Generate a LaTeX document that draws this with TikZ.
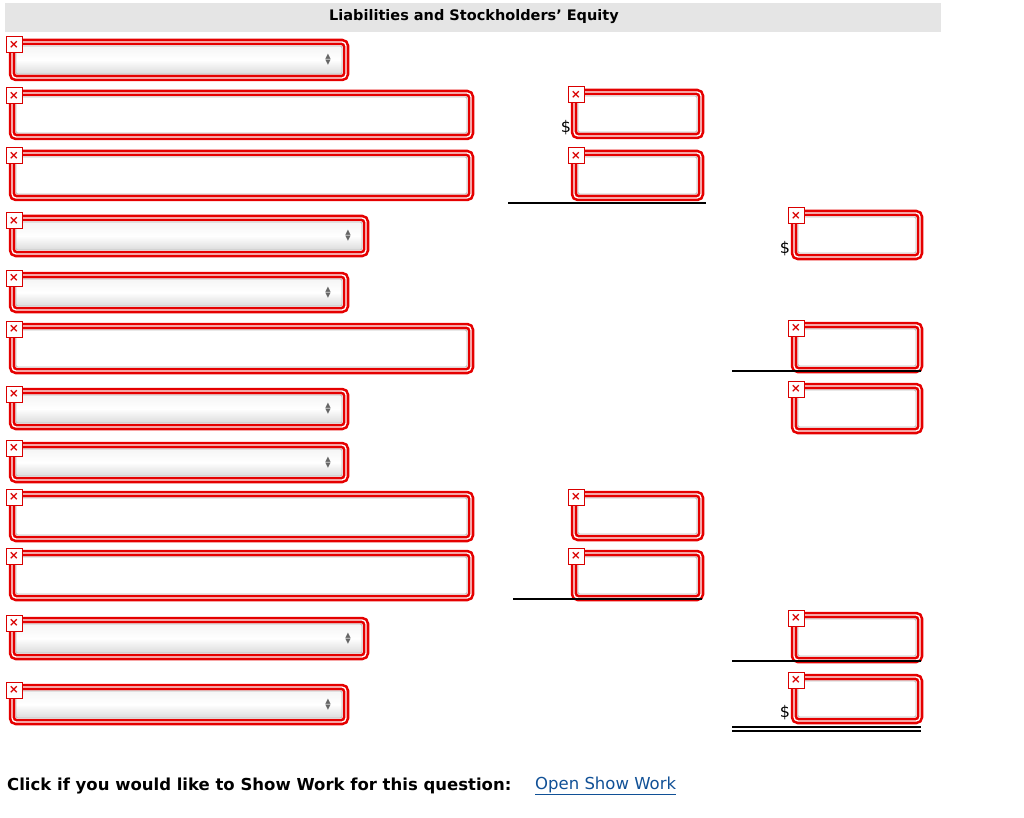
\documentclass[tikz,border=0pt]{standalone}
\usepackage{fontspec}
\setmainfont{DejaVu Sans}
\begin{document}
\begin{tikzpicture}[x=1pt,y=-1pt,
  outer/.style={draw=red!90!black,line width=2.6pt,double=white,double distance=1.3pt,rounded corners=4pt},
  inner/.style={draw=black!25,line width=0.8pt,rounded corners=2pt},
  selfill/.style={top color=black!4,bottom color=black!14,middle color=white},
  icon/.style={draw=red!85!black,fill=white,line width=1pt,minimum size=16pt,inner sep=0pt,text=red!85!black,font=\bfseries\fontsize{12}{12}\selectfont},
  arr/.style={font=\fontsize{7}{7}\selectfont,text=black!60,inner sep=0pt},
  rule/.style={line width=1.2pt},
  dollar/.style={font=\fontsize{16}{16}\selectfont,inner sep=0pt}]
\useasboundingbox (0,0) rectangle (1024,818);
\fill[black!10] (5,3) rectangle (941,32);
\node[font=\bfseries\fontsize{14.5}{16}\selectfont] (hdr) at (474,17) {Liabilities and Stockholders' Equity};
\newcommand\txfld[5]{%
  \draw[outer] (#2,#3) rectangle (#4,#5);
  \draw[inner] (#2+4,#3+4) rectangle (#4-4,#5-4);
  \node[icon] (#1) at (#2+2,#3+3) {×};}
\newcommand\slfld[5]{%
  \draw[outer] (#2,#3) rectangle (#4,#5);
  \draw[inner,selfill] (#2+4,#3+4) rectangle (#4-4,#5-4);
  \node[arr] (#1u) at (#4-18,{(#3+#5)/2-3}) {▲};
  \node[arr] (#1d) at (#4-18,{(#3+#5)/2+3}) {▼};
  \node[icon] (#1) at (#2+2,#3+3) {×};}
\slfld{f1}{12}{42}{346}{78}
\txfld{f2}{12}{93}{471}{137}
\txfld{f3}{12}{153}{471}{198}
\slfld{f4}{12}{218}{366}{254}
\slfld{f5}{12}{275}{346}{310}
\txfld{f6}{12}{326}{471}{371}
\slfld{f7}{12}{391}{346}{427}
\slfld{f8}{12}{445}{346}{480}
\txfld{f9}{12}{494}{471}{539}
\txfld{f10}{12}{553}{471}{598}
\slfld{f11}{12}{620}{366}{657}
\slfld{f12}{12}{687}{346}{722}
\txfld{m1}{574}{92}{701}{136}
\txfld{m2}{574}{153}{701}{198}
\txfld{m3}{574}{494}{701}{538}
\txfld{m4}{574}{553}{701}{598}
\draw[rule] (508,203) -- (706,203);
\draw[rule] (513,599) -- (702,599);
\node[dollar] (d1) at (566,128) {\$};
\txfld{r1}{794}{213}{920}{257}
\txfld{r2}{794}{325}{920}{370}
\txfld{r3}{794}{386}{920}{431}
\txfld{r4}{794}{615}{920}{660}
\txfld{r5}{794}{677}{920}{721}
\draw[rule] (732,371) -- (921,371);
\draw[rule] (732,661) -- (921,661);
\draw[rule] (732,727) -- (921,727);
\draw[rule] (732,731) -- (921,731);
\node[dollar] (d2) at (785,249) {\$};
\node[dollar] (d3) at (785,713) {\$};
\node[anchor=west,font=\bfseries\fontsize{16.5}{18}\selectfont,inner sep=0pt] (cl) at (7,786) {Click if you would like to Show Work for this question:};
\node[anchor=west,font=\fontsize{16.5}{18}\selectfont,text={rgb,255:red,16;green,80;blue,150},inner sep=0pt] (lk) at (535,786) {\underline{Open Show Work}};
\end{tikzpicture}
\end{document}
